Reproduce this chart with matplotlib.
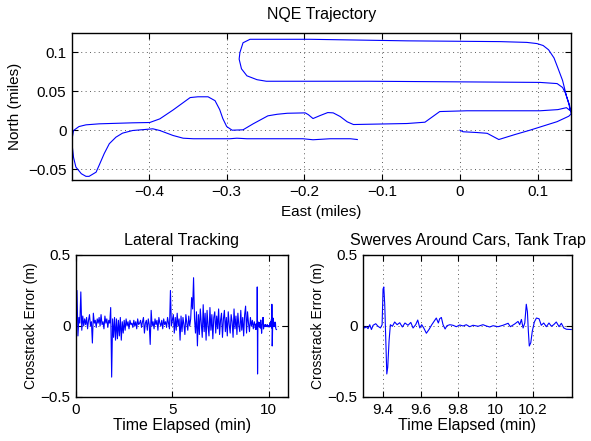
import numpy as np
import matplotlib
matplotlib.use("Agg")
import matplotlib.pyplot as plt

plt.rcParams['font.family'] = ['Liberation Sans', 'DejaVu Sans']
plt.rcParams['font.size'] = 11

# -------------------- data --------------------------------------------------------------------------------------------

# NQE route (miles)
east = [0.000, 0.004, 0.022, 0.035, 0.050, 0.071, 0.090, 0.125, 0.140, 0.143,
        0.141, 0.137, 0.132, 0.126, 0.121, 0.114, 0.107, 0.099, 0.086, 0.052,
        -0.068, -0.193, -0.264, -0.270, -0.279, -0.283, -0.284, -0.281, -0.274, -0.261,
        -0.249, -0.116, 0.103, 0.125, 0.132, 0.136, 0.140, 0.142, 0.137, 0.126,
        0.103, 0.009, -0.026, -0.045, -0.068, -0.137, -0.145, -0.154, -0.163, -0.170,
        -0.180, -0.189, -0.195, -0.199, -0.222, -0.235, -0.247, -0.266, -0.279, -0.293,
        -0.300, -0.305, -0.309, -0.315, -0.324, -0.337, -0.347, -0.369, -0.386, -0.399,
        -0.421, -0.464, -0.481, -0.490, -0.497, -0.4985, -0.499, -0.497, -0.494, -0.487,
        -0.481, -0.477, -0.468, -0.464, -0.4575, -0.451, -0.4425, -0.434, -0.421, -0.404,
        -0.395, -0.386, -0.369, -0.356, -0.343, -0.296, -0.287, -0.274, -0.202, -0.189,
        -0.167, -0.141, -0.132]
north = [0.000, -0.002, -0.003, -0.004, -0.012, -0.0055, 0.000, 0.011, 0.018, 0.021,
         0.032, 0.044, 0.064, 0.080, 0.093, 0.1035, 0.109, 0.1115, 0.113, 0.114,
         0.115, 0.117, 0.117, 0.117, 0.1125, 0.100, 0.0915, 0.079, 0.070, 0.065,
         0.063, 0.063, 0.0615, 0.060, 0.055, 0.047, 0.034, 0.025, 0.029, 0.0265,
         0.025, 0.025, 0.024, 0.0103, 0.0086, 0.0073, 0.0108, 0.0176, 0.0223, 0.0227,
         0.0188, 0.015, 0.020, 0.0223, 0.0218, 0.0205, 0.0185, 0.0082, 0.0005, 0.000,
         0.0047, 0.015, 0.0265, 0.038, 0.043, 0.043, 0.042, 0.026, 0.0146, 0.0099,
         0.0095, 0.0082, 0.0069, 0.0047, -0.0004, -0.009, -0.0174, -0.035, -0.0474, -0.056,
         -0.0594, -0.0594, -0.054, -0.045, -0.030, -0.0174, -0.009, -0.0038, -0.0004, 0.001,
         0.0018, -0.0004, -0.0068, -0.0103, -0.011, -0.011, -0.0103, -0.011, -0.011, -0.0123,
         -0.011, -0.011, -0.012]

# crosstrack error (m), coarse part sampled every 0.05 min from t = 0
coarse_dt = 0.05
coarse_err = [
    0.00, 0.25, -0.07, 0.06, 0.02, 0.24, -0.03, 0.07, 0.00, 0.05, 0.01, 0.06, -0.02, 0.04, 0.08, 0.00, 0.03, -0.12, 0.09, 0.02,
    0.04, -0.01, 0.05, 0.02, 0.06, 0.00, 0.08, 0.01, 0.03, -0.02, 0.07, 0.02, 0.05, -0.01, 0.04, 0.02, 0.13, -0.36, 0.05, -0.08,
    0.06, -0.10, 0.05, -0.09, 0.04, -0.07, 0.06, -0.10, 0.03, -0.05, 0.04, -0.03, 0.05, 0.00, 0.03, -0.02, 0.04, 0.01, 0.02, -0.01,
    0.04, 0.00, 0.03, -0.02, 0.05, 0.01, 0.02, 0.04, -0.01, 0.03, 0.06, -0.05, 0.02, 0.04, -0.03, 0.05, 0.01, -0.13, 0.11, 0.00,
    0.03, -0.02, 0.05, 0.01, 0.04, -0.03, 0.06, 0.02, 0.00, 0.04, -0.02, 0.05, 0.01, 0.03, -0.01, 0.06, 0.02, -0.02, 0.25, 0.00,
    0.04, 0.08, -0.05, 0.06, -0.03, 0.09, 0.00, 0.05, -0.10, 0.07, -0.04, 0.06, 0.01, -0.06, 0.08, 0.02, -0.03, 0.07, 0.00, 0.05,
    0.20, 0.12, 0.34, 0.05, -0.05, 0.10, -0.14, 0.08, -0.06, 0.12, 0.02, -0.08, 0.15, -0.04, 0.09, -0.10, 0.11, 0.00, -0.07, 0.13,
    -0.03, 0.08, -0.09, 0.06, 0.10, -0.05, 0.07, -0.02, 0.12, -0.06, 0.04, 0.09, -0.08, 0.05, 0.11, -0.04, 0.06, -0.07, 0.10, 0.01,
    -0.05, 0.08, 0.03, -0.08, 0.12, -0.02, 0.07, -0.06, 0.09, 0.00, -0.04, 0.11, -0.03, 0.06, -0.07, 0.08, 0.14, -0.05, 0.10, 0.02,
    -0.04, 0.06, 0.00, 0.04, -0.02, 0.03,
]

# detailed part around the swerves (car, tank trap)
swerve_t = [9.293, 9.302, 9.311, 9.320, 9.329, 9.338, 9.347, 9.361, 9.373, 9.386,
            9.395, 9.400, 9.404, 9.409, 9.414, 9.420, 9.425, 9.432, 9.439, 9.450,
            9.462, 9.475, 9.489, 9.503, 9.517, 9.533, 9.548, 9.560, 9.574, 9.585,
            9.596, 9.606, 9.617, 9.631, 9.645, 9.660, 9.674, 9.684, 9.695, 9.702,
            9.711, 9.720, 9.731, 9.741, 9.756, 9.773, 9.791, 9.809, 9.827, 9.844,
            9.862, 9.880, 9.907, 9.933, 9.951, 9.969, 9.987, 10.013, 10.040, 10.067,
            10.079, 10.102, 10.120, 10.129, 10.138, 10.147, 10.156, 10.164, 10.170, 10.175,
            10.180, 10.188, 10.196, 10.207, 10.218, 10.232, 10.244, 10.257, 10.271, 10.285,
            10.298, 10.310, 10.324, 10.339, 10.351, 10.364, 10.378, 10.404]
swerve_err = [0.005, -0.014, -0.005, -0.019, 0.009, -0.025, 0.005, 0.016, -0.002, -0.014,
              0.009, 0.260, 0.275, 0.150, -0.083, -0.338, -0.290, -0.106, 0.009, -0.002,
              0.028, 0.009, 0.023, -0.007, 0.021, 0.005, 0.025, -0.014, 0.009, 0.042,
              -0.014, 0.009, -0.014, -0.051, -0.025, 0.009, 0.037, 0.056, 0.021, 0.051,
              0.060, 0.009, -0.021, 0.002, 0.009, 0.005, -0.005, 0.007, 0.000, 0.009,
              -0.005, 0.005, -0.002, 0.009, 0.000, -0.007, 0.002, -0.005, 0.005, 0.019,
              -0.005, 0.014, 0.032, 0.009, 0.046, -0.014, 0.021, 0.153, 0.100, -0.037,
              -0.141, -0.118, -0.037, 0.028, 0.056, 0.051, 0.005, 0.021, -0.005, 0.021,
              -0.002, 0.009, 0.028, -0.005, 0.019, -0.014, -0.023, -0.025]

traj_xticks = [-0.4, -0.3, -0.2, -0.1, 0, 0.1]
traj_xlabels = ['\u22120.4', '\u22120.3', '\u22120.2', '\u22120.1', '0', '0.1']
traj_yticks = [-0.05, 0, 0.05, 0.1]
traj_ylabels = ['\u22120.05', '0', '0.05', '0.1']
err_yticks = [-0.5, 0, 0.5]
err_ylabels = ['\u22120.5', '0', '0.5']
lat_xticks = [0, 5, 10]
lat_xlabels = ['0', '5', '10']
sw_xticks = [9.4, 9.6, 9.8, 10, 10.2]
sw_xlabels = ['9.4', '9.6', '9.8', '10', '10.2']

t_all = np.concatenate([np.arange(len(coarse_err)) * coarse_dt, swerve_t])
err_all = np.concatenate([coarse_err, swerve_err])

# -------------------- figure ------------------------------------------------------------------------------------------

fig = plt.figure(figsize=(5.91, 4.41), dpi=100)
ax_traj = fig.add_axes([0.1218, 0.592, 0.8439, 0.333])
ax_lat = fig.add_axes([0.1286, 0.0998, 0.3587, 0.322])
ax_sw = fig.add_axes([0.6142, 0.0998, 0.3537, 0.322])

blue = '#0000ff'


def matlab_style(ax):
    for s in ax.spines.values():
        s.set_linewidth(1.0)
    ax.tick_params(direction='in', top=True, right=True, length=4, width=0.8, labelsize=11, pad=4)
    ax.grid(True, linestyle=(0, (1, 3.5)), color='0.35', linewidth=0.7)
    ax.set_axisbelow(True)


ax_traj.plot(east, north, color=blue, linewidth=0.8)
ax_traj.set_xlim(-0.499, 0.1425)
ax_traj.set_ylim(-0.064, 0.125)
ax_traj.set_xticks(traj_xticks, traj_xlabels)
ax_traj.set_yticks(traj_yticks, traj_ylabels)
ax_traj.set_title('NQE Trajectory', fontsize=11.5, pad=10)
ax_traj.set_xlabel('East (miles)', fontsize=11, labelpad=4)
ax_traj.set_ylabel('North (miles)', fontsize=11)
matlab_style(ax_traj)

ax_lat.plot(t_all, err_all, color=blue, linewidth=0.8)
ax_lat.set_xlim(0, 11)
ax_lat.set_ylim(-0.5, 0.5)
ax_lat.set_xticks(lat_xticks, lat_xlabels)
ax_lat.set_yticks(err_yticks, err_ylabels)
ax_lat.set_title('Lateral Tracking', fontsize=11.6, pad=7)
ax_lat.set_xlabel('Time Elapsed (min)', fontsize=11.5, labelpad=1)
ax_lat.set_ylabel('Crosstrack Error (m)', fontsize=10, labelpad=2)
matlab_style(ax_lat)

ax_sw.plot(t_all, err_all, color=blue, linewidth=0.8)
ax_sw.set_xlim(9.293, 10.408)
ax_sw.set_ylim(-0.5, 0.5)
ax_sw.set_xticks(sw_xticks, sw_xlabels)
ax_sw.set_yticks(err_yticks, err_ylabels)
ax_sw.set_title('Swerves Around Cars, Tank Trap', fontsize=11.6, pad=7)
ax_sw.set_xlabel('Time Elapsed (min)', fontsize=11.5, labelpad=1)
ax_sw.set_ylabel('Crosstrack Error (m)', fontsize=10, labelpad=2)
matlab_style(ax_sw)

fig.savefig('out.png', dpi=100)
